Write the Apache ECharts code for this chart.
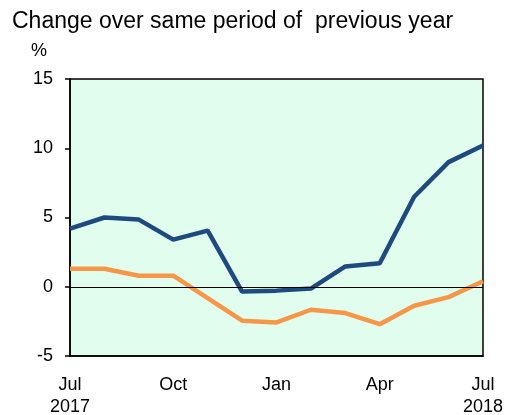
<!DOCTYPE html>
<html>
<head>
<meta charset="utf-8">
<script src="https://cdn.jsdelivr.net/npm/echarts@6/dist/echarts.min.js"></script>
<style>
  html, body { margin: 0; padding: 0; background: #fff; }
  #chart { width: 510px; height: 415px; }
</style>
</head>
<body>
<div id="chart"></div>
<script>
var months = ['Jul 2017', 'Aug 2017', 'Sep 2017', 'Oct 2017', 'Nov 2017', 'Dec 2017',
  'Jan 2018', 'Feb 2018', 'Mar 2018', 'Apr 2018', 'May 2018', 'Jun 2018', 'Jul 2018'];
var xTickLabels = ['Jul\n2017', '', '', 'Oct', '', '', 'Jan', '', '', 'Apr', '', '', 'Jul\n2018'];
var blueSeries = [4.2, 5.0, 4.85, 3.4, 4.05, -0.35, -0.28, -0.13, 1.47, 1.7, 6.5, 9.0, 10.2];
var orangeSeries = [1.3, 1.3, 0.8, 0.8, -0.82, -2.45, -2.58, -1.66, -1.9, -2.7, -1.37, -0.75, 0.4];
var yTicks = [-5, 0, 5, 10, 15];

var chart = echarts.init(document.getElementById('chart'));

var option = {
  animation: false,
  textStyle: { fontFamily: 'Liberation Sans, Arial, sans-serif' },
  title: [{
    text: 'Change over same period of  previous year',
    left: 7,
    top: 5,
    textStyle: { fontSize: 23, fontWeight: 'normal', color: '#000' }
  }, {
    text: '%',
    left: 26,
    top: 37,
    textStyle: { fontSize: 18, fontWeight: 'normal', color: '#000' }
  }],
  grid: {
    left: 70,
    right: 27,
    top: 79,
    bottom: 59,
    outerBoundsMode: 'none',
    show: true,
    backgroundColor: '#E0FDEE',
    borderColor: '#000',
    borderWidth: 1.5
  },
  xAxis: {
    type: 'category',
    boundaryGap: false,
    data: months,
    axisLine: { onZero: false, lineStyle: { color: '#000', width: 1.5 } },
    axisTick: { show: false },
    axisLabel: {
      interval: 0,
      color: '#000',
      fontSize: 18,
      lineHeight: 22,
      margin: 18,
      formatter: function (v, i) { return xTickLabels[i]; }
    },
    splitLine: { show: false }
  },
  yAxis: {
    type: 'value',
    min: yTicks[0],
    max: yTicks[yTicks.length - 1],
    interval: 5,
    axisLine: { show: true, lineStyle: { color: '#000', width: 1.5 } },
    axisTick: { show: true, length: 5, lineStyle: { color: '#000', width: 1.5 } },
    axisLabel: { color: '#000', fontSize: 18, margin: 17 },
    splitLine: { show: false }
  },
  series: [{
    name: 'blue',
    type: 'line',
    data: blueSeries,
    symbol: 'none',
    lineStyle: { color: '#1F4A7E', width: 4.5 },
    z: 3,
    markLine: {
      silent: true,
      symbol: 'none',
      label: { show: false },
      lineStyle: { color: '#000', width: 1, type: 'solid' },
      data: [{ yAxis: 0 }]
    }
  }, {
    name: 'orange',
    type: 'line',
    data: orangeSeries,
    symbol: 'none',
    lineStyle: { color: '#F79646', width: 4.5 },
    z: 2
  }]
};

chart.setOption(option);
</script>
</body>
</html>
